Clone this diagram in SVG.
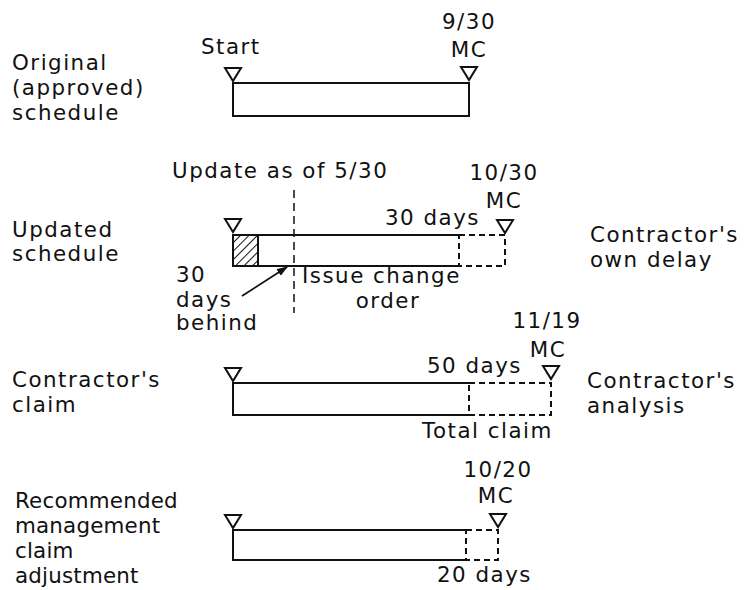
<svg xmlns="http://www.w3.org/2000/svg" width="744" height="590" viewBox="0 0 744 590">
<style>
text{font-family:"DejaVu Sans","Liberation Sans",sans-serif;font-size:21.4px;letter-spacing:1.5px;fill:#111}
.m{text-anchor:middle}
.sm{letter-spacing:0.2px}
.bar{fill:none;stroke:#111;stroke-width:2}
.dash{fill:none;stroke:#111;stroke-width:2;stroke-dasharray:6 4}
.tri{fill:#fff;stroke:#111;stroke-width:2;stroke-linejoin:miter}
</style>
<defs>
<pattern id="hatch" width="6" height="6" patternUnits="userSpaceOnUse" patternTransform="rotate(45)">
<line x1="0" y1="0" x2="0" y2="6" stroke="#111" stroke-width="2"/>
</pattern>
<marker id="ah" markerWidth="11" markerHeight="8" refX="10" refY="4" orient="auto" markerUnits="userSpaceOnUse">
<path d="M0,0 L11,4 L0,8 z" fill="#111"/>
</marker>
</defs>
<rect width="744" height="590" fill="#fff"/>

<g id="original">
<text x="12" y="70">Original</text>
<text x="12" y="95">(approved)</text>
<text x="12" y="120">schedule</text>
<text x="201" y="54">Start</text>
<text class="m" x="469" y="29">9/30</text>
<text class="m" x="469" y="57">MC</text>
<rect class="bar" x="233" y="83" width="236" height="33"/>
<path class="tri" d="M225,68 L241,68 L233,81 z"/>
<path class="tri" d="M461,67 L477,67 L469,80 z"/>
</g>

<g id="updated">
<text x="12" y="237">Updated</text>
<text x="12" y="261">schedule</text>
<text x="172" y="178">Update as of 5/30</text>
<text class="m" x="504" y="180">10/30</text>
<text class="m" x="504" y="208">MC</text>
<text x="385" y="225">30 days</text>
<rect x="233" y="235" width="25" height="31" fill="url(#hatch)"/>
<line x1="258" y1="235" x2="258" y2="266" stroke="#111" stroke-width="2"/>
<path class="bar" d="M459,235 L233,235 L233,266 L459,266"/>
<path class="dash" d="M459,235 L505,235 L505,266 L459,266 L459,235"/>
<path class="tri" d="M225,219 L241,219 L233,232 z"/>
<path class="tri" d="M497,220 L513,220 L505,233 z"/>
<text x="176" y="282">30</text>
<text x="176" y="307">days</text>
<text x="176" y="330">behind</text>
<text x="302" y="283">Issue change</text>
<text class="m" x="388" y="308">order</text>
<text x="590" y="242">Contractor's</text>
<text x="590" y="267">own delay</text>
</g>

<g id="claim">
<text x="12" y="387">Contractor's</text>
<text x="12" y="412">claim</text>
<text class="m" x="547" y="328">11/19</text>
<text class="m" x="548" y="357">MC</text>
<text x="427" y="373">50 days</text>
<path class="bar" d="M469,383 L233,383 L233,415 L469,415"/>
<path class="dash" d="M469,383 L551,383 L551,415 L469,415 L469,383"/>
<path class="tri" d="M225,368 L241,368 L233,381 z"/>
<path class="tri" d="M543,366 L559,366 L551,379 z"/>
<text x="422" y="438">Total claim</text>
<text x="587" y="388">Contractor's</text>
<text x="587" y="413">analysis</text>
</g>

<g id="recommended">
<text class="sm" x="15" y="508">Recommended</text>
<text class="sm" x="15" y="533">management</text>
<text class="sm" x="15" y="558">claim</text>
<text class="sm" x="15" y="583">adjustment</text>
<text class="m" x="498" y="477">10/20</text>
<text class="m" x="496" y="503">MC</text>
<path class="bar" d="M466,530 L233,530 L233,560 L466,560"/>
<path class="dash" d="M466,530 L498,530 L498,560 L466,560 L466,530"/>
<path class="tri" d="M225,515 L241,515 L233,528 z"/>
<path class="tri" d="M490,514 L506,514 L498,527 z"/>
<text x="437" y="582">20 days</text>
</g>

<g id="connectors">
<line x1="294" y1="190" x2="294" y2="313" stroke="#111" stroke-width="1.5" stroke-dasharray="8 5"/>
<line x1="242" y1="296" x2="287" y2="267" stroke="#111" stroke-width="1.8" marker-end="url(#ah)"/>
</g>
</svg>
